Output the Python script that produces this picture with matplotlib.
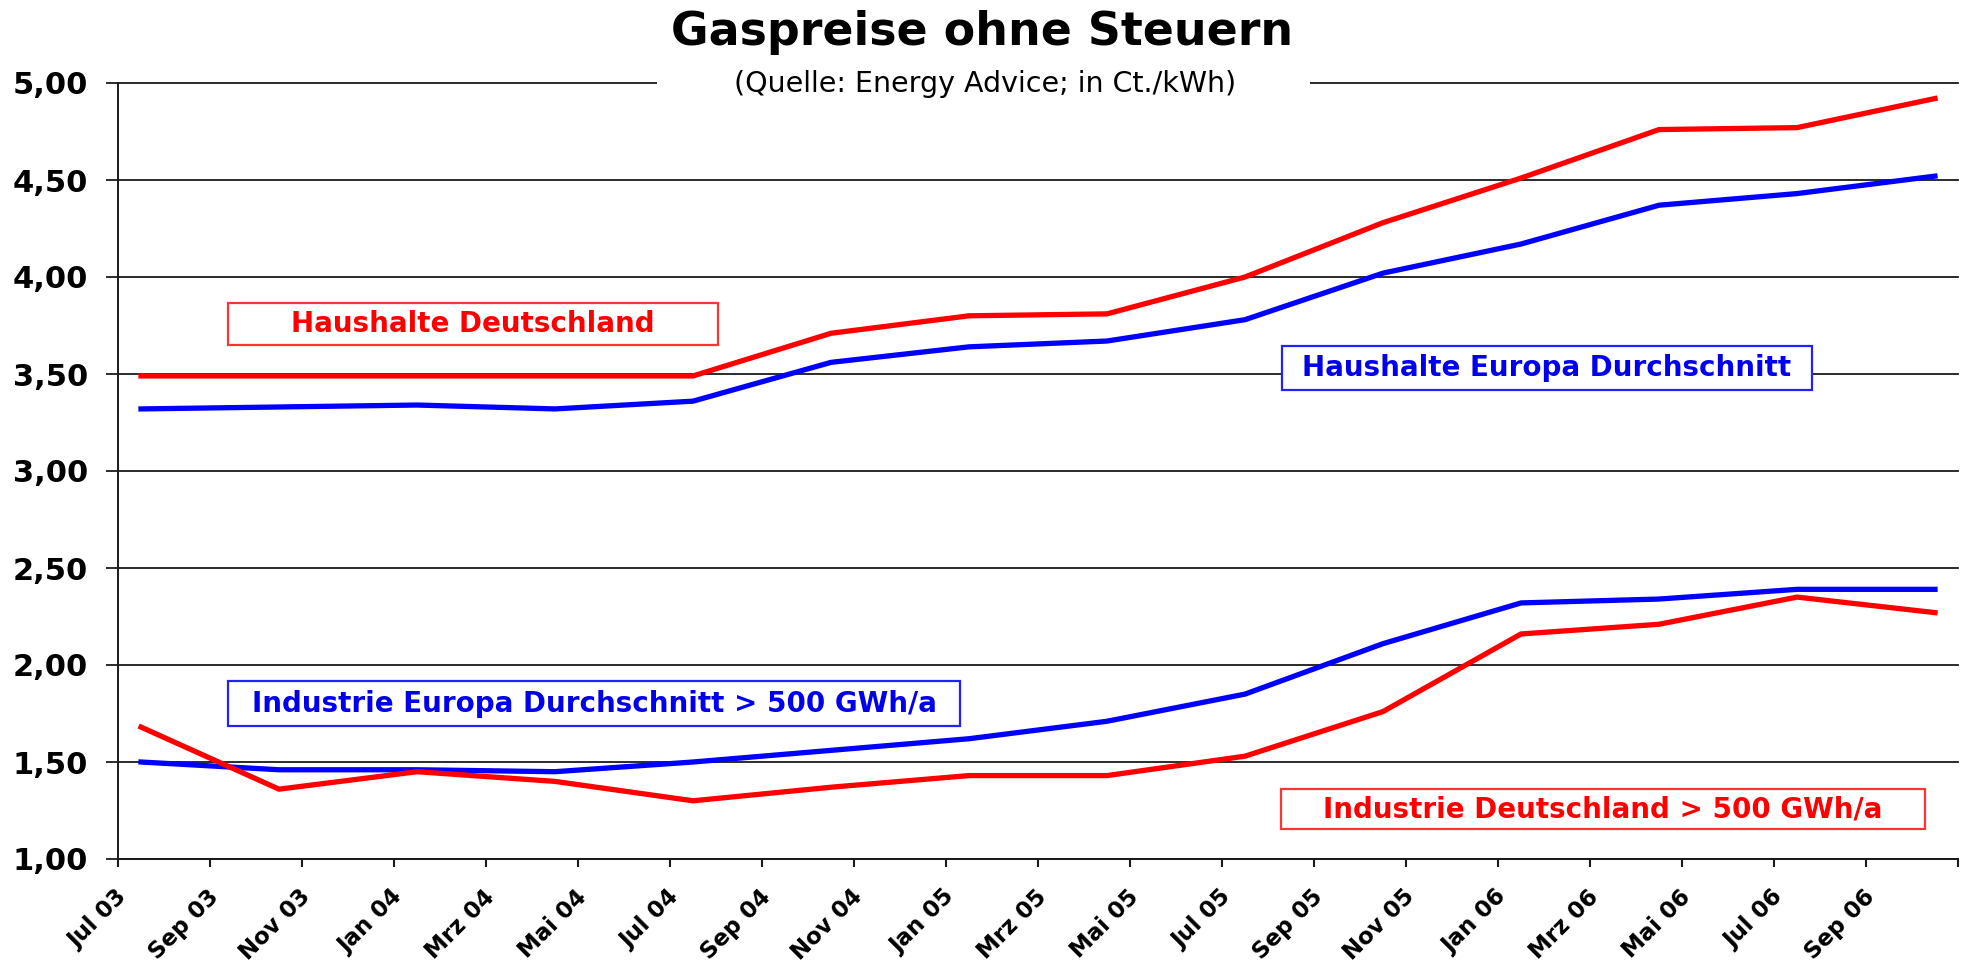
import matplotlib
matplotlib.use("Agg")
import matplotlib.pyplot as plt
from matplotlib.patches import Rectangle
from matplotlib.transforms import ScaledTranslation

# ---------------- data ----------------
# quarterly observation months (values taken mid-month)
obs_months = ["2003-07", "2003-10", "2004-01", "2004-04", "2004-07", "2004-10", "2005-01",
              "2005-04", "2005-07", "2005-10", "2006-01", "2006-04", "2006-07", "2006-10"]

haushalte_de = [3.49, 3.49, 3.49, 3.49, 3.49, 3.71, 3.80, 3.81, 4.00, 4.28, 4.51, 4.76, 4.77, 4.92]
haushalte_eu = [3.32, 3.33, 3.34, 3.32, 3.36, 3.56, 3.64, 3.67, 3.78, 4.02, 4.17, 4.37, 4.43, 4.52]
industrie_de = [1.68, 1.36, 1.45, 1.40, 1.30, 1.37, 1.43, 1.43, 1.53, 1.76, 2.16, 2.21, 2.35, 2.27]
industrie_eu = [1.50, 1.46, 1.46, 1.45, 1.50, 1.56, 1.62, 1.71, 1.85, 2.11, 2.32, 2.34, 2.39, 2.39]

x_tick_labels = ["Jul 03", "Sep 03", "Nov 03", "Jan 04", "Mrz 04", "Mai 04", "Jul 04",
                 "Sep 04", "Nov 04", "Jan 05", "Mrz 05", "Mai 05", "Jul 05", "Sep 05",
                 "Nov 05", "Jan 06", "Mrz 06", "Mai 06", "Jul 06", "Sep 06", ""]
y_ticks = [1.0, 1.5, 2.0, 2.5, 3.0, 3.5, 4.0, 4.5, 5.0]
y_tick_labels = ["1,00", "1,50", "2,00", "2,50", "3,00", "3,50", "4,00", "4,50", "5,00"]

title = "Gaspreise ohne Steuern"
subtitle = "(Quelle: Energy Advice; in Ct./kWh)"
label_hh_de = "Haushalte Deutschland"
label_hh_eu = "Haushalte Europa Durchschnitt"
label_in_eu = "Industrie Europa Durchschnitt > 500 GWh/a"
label_in_de = "Industrie Deutschland > 500 GWh/a"

# ---------------- helpers ----------------
START_Y, START_M = 2003, 7


def month_pos(s):
    y, m = s.split("-")
    return (int(y) - START_Y) * 12 + (int(m) - START_M) + 0.5


x = [month_pos(s) for s in obs_months]
x_ticks = list(range(0, 2 * len(x_tick_labels), 2))

RED = "#FF0000"
BLUE = "#0000FF"
GRID = "#1a1a1a"

W, H = 1979, 974
fig = plt.figure(figsize=(W / 100, H / 100), dpi=100)
fig.patch.set_facecolor("white")

ax_l, ax_r, ax_t, ax_b = 118, 1958, 83, 859
ax = fig.add_axes([ax_l / W, (H - ax_b) / H, (ax_r - ax_l) / W, (ax_b - ax_t) / H])

ax.plot(x, haushalte_eu, color=BLUE, lw=3.8, solid_joinstyle="miter", zorder=3)
ax.plot(x, haushalte_de, color=RED, lw=3.8, solid_joinstyle="miter", zorder=4)
ax.plot(x, industrie_eu, color=BLUE, lw=3.8, solid_joinstyle="miter", zorder=3)
ax.plot(x, industrie_de, color=RED, lw=3.8, solid_joinstyle="miter", zorder=4)

ax.set_xlim(x_ticks[0], x_ticks[-1])
ax.set_ylim(y_ticks[0], y_ticks[-1])

ax.set_yticks(y_ticks)
ax.set_yticklabels(y_tick_labels, fontsize=22, fontweight="bold")
ax.set_xticks(x_ticks)
ax.set_xticklabels(x_tick_labels, fontsize=16.5, fontweight="bold",
                   rotation=45, ha="right", va="top", rotation_mode="anchor")

ax.yaxis.grid(True, color=GRID, lw=1.3)
for gl in ax.get_ygridlines():
    gl.set_clip_on(False)
ax.set_axisbelow(True)

for s in ["top", "right"]:
    ax.spines[s].set_visible(False)
for s in ["left", "bottom"]:
    ax.spines[s].set_color(GRID)
    ax.spines[s].set_linewidth(1.4)

ax.tick_params(axis="y", length=8.6, width=1.3, color=GRID, pad=13)
ax.tick_params(axis="x", length=5.8, width=1.5, color=GRID, pad=13)

shift = ScaledTranslation(-3 / 100, 0, fig.dpi_scale_trans)
for lab in ax.get_xticklabels():
    lab.set_transform(lab.get_transform() + shift)


def fx(px):
    return (px - ax_l) / (ax_r - ax_l)


def fy(py):
    return (ax_b - py) / (ax_b - ax_t)


def label_box(text, x0, x1, y0, y1, color, edge):
    ax.add_patch(Rectangle((fx(x0), fy(y1)), fx(x1) - fx(x0), fy(y0) - fy(y1),
                           transform=ax.transAxes, facecolor="white", edgecolor=edge,
                           lw=1.6, zorder=5))
    ax.text((fx(x0) + fx(x1)) / 2, (fy(y0) + fy(y1)) / 2, text, transform=ax.transAxes,
            ha="center", va="center", fontsize=20, fontweight="bold", color=color, zorder=6)


label_box(label_hh_de, 228, 718, 303, 345, RED, "#FF3333")
label_box(label_hh_eu, 1282, 1812, 346, 390, "#0000EE", "#2222FF")
label_box(label_in_eu, 228, 960, 681, 726, "#0000EE", "#2222FF")
label_box(label_in_de, 1281, 1925, 789, 829, RED, "#FF3333")

# white gap in the top gridline behind the subtitle
fig.patches.append(Rectangle((657 / W, (H - 89) / H), (1310 - 657) / W, 12 / H,
                             transform=fig.transFigure, facecolor="white",
                             edgecolor="none", zorder=2))

fig.text(982 / W, (H - 45) / H, title, ha="center", va="baseline",
         fontsize=33, fontweight="bold", zorder=3)
fig.text(985 / W, (H - 92) / H, subtitle, ha="center", va="baseline",
         fontsize=20.5, zorder=3)

fig.savefig("out.png", dpi=100, facecolor="white")
